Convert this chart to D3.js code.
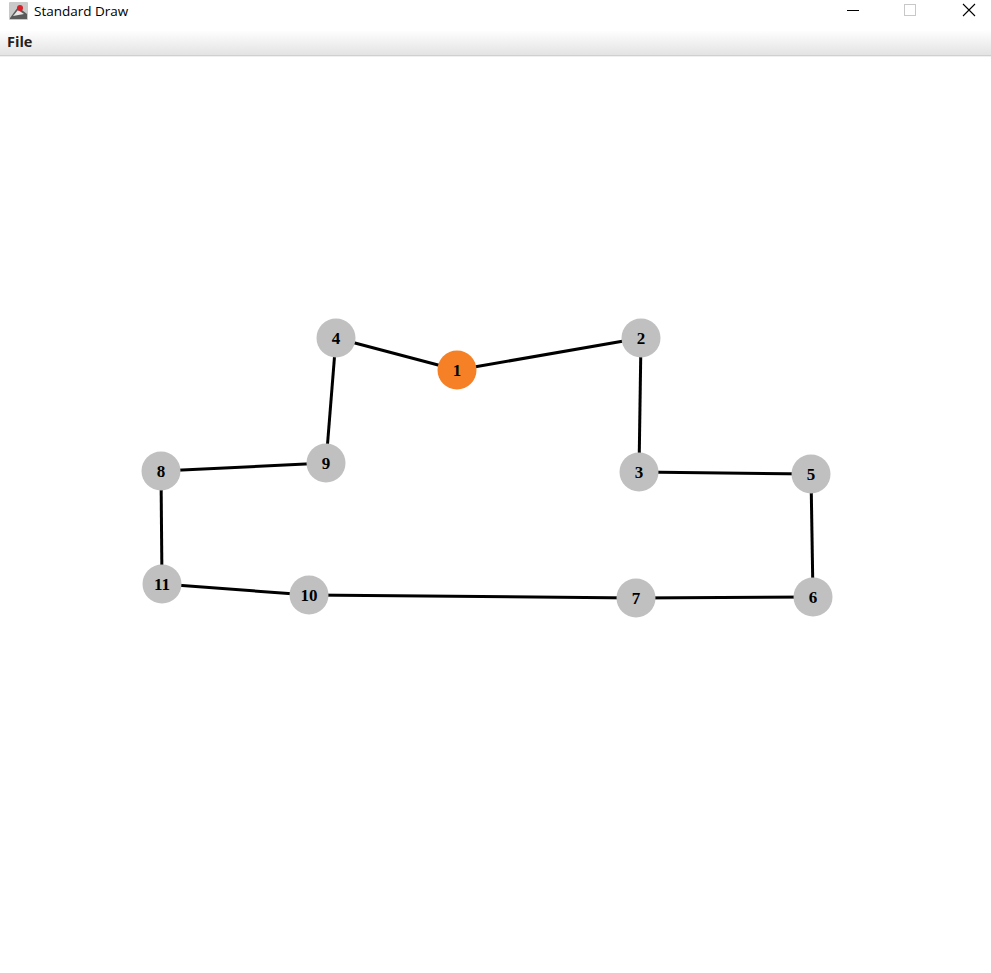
<!DOCTYPE html>
<html>
<head>
<meta charset="utf-8">
<title>Standard Draw</title>
<script src="https://cdn.jsdelivr.net/npm/d3@7"></script>
<style>
  html, body { margin: 0; padding: 0; background: #fff; overflow: hidden; }
  svg { display: block; }
</style>
</head>
<body>
<svg id="win" width="991" height="973"></svg>
<script>
// graph data (canvas pixel coordinates)
const nodeIds = [1, 2, 3, 4, 5, 6, 7, 8, 9, 10, 11]
const nodeX = [457, 641, 639, 336, 811, 813, 636, 161, 326, 309, 162]
const nodeY = [370, 338, 472, 338, 474, 597, 598, 471, 463, 595, 584]
const edgeFrom = [4, 1, 2, 3, 5, 6, 7, 10, 11, 8, 9]
const edgeTo = [1, 2, 3, 5, 6, 7, 10, 11, 8, 9, 4]
const highlighted = [1]

const W = 991, H = 973
const canvasTop = 57

const svg = d3.select('#win')

// --- window chrome ---
const defs = svg.append('defs')
const grad = defs.append('linearGradient').attr('id', 'menuGrad')
  .attr('x1', 0).attr('y1', 0).attr('x2', 0).attr('y2', 1)
grad.append('stop').attr('offset', '0%').attr('stop-color', '#ffffff')
grad.append('stop').attr('offset', '100%').attr('stop-color', '#e3e3e3')

svg.append('rect').attr('x', 0).attr('y', 0).attr('width', W).attr('height', 30).attr('fill', '#fff')
svg.append('rect').attr('x', 0).attr('y', 30).attr('width', W).attr('height', 25).attr('fill', 'url(#menuGrad)')
svg.append('line').attr('x1', 0).attr('x2', W).attr('y1', 55.5).attr('y2', 55.5).attr('stroke', '#d0d0d0')
svg.append('line').attr('x1', 0).attr('x2', W).attr('y1', 56.5).attr('y2', 56.5).attr('stroke', '#f0f0f0')

// app icon
const icon = svg.append('g').attr('transform', 'translate(9,2)')
icon.append('rect').attr('width', 19).attr('height', 18).attr('fill', '#c9c9c9').attr('rx', 1)
icon.append('path').attr('d', 'M1,16 L9,5 L18,12 L18,17 L1,17 Z').attr('fill', '#5a5a5a')
icon.append('path').attr('d', 'M4,14 L9,8 L15,12 Z').attr('fill', '#e8e8e8')
icon.append('circle').attr('cx', 11).attr('cy', 6).attr('r', 3).attr('fill', '#d8202a')

svg.append('text').attr('x', 34).attr('y', 16).text('Standard Draw')
  .attr('font-family', 'Open Sans, Noto Sans, sans-serif').attr('font-size', 13.5).attr('fill', '#000')
svg.append('text').attr('x', 7).attr('y', 47).text('File')
  .attr('font-family', 'Open Sans, Noto Sans, sans-serif').attr('font-weight', 'bold')
  .attr('font-size', 14.5).attr('fill', '#222')

// window buttons
svg.append('line').attr('x1', 847).attr('x2', 859).attr('y1', 10.5).attr('y2', 10.5).attr('stroke', '#000')
svg.append('rect').attr('x', 904.5).attr('y', 4.5).attr('width', 11).attr('height', 11)
  .attr('fill', 'none').attr('stroke', '#c8c8c8')
svg.append('path').attr('d', 'M963,4 L975,16 M975,4 L963,16').attr('stroke', '#000').attr('stroke-width', 1.1)

// --- drawing canvas ---
const x = d3.scaleLinear().domain([0, W]).range([0, W])
const y = d3.scaleLinear().domain([canvasTop, H]).range([canvasTop, H])

const nodes = nodeIds.map((id, i) => ({ id, x: nodeX[i], y: nodeY[i] }))
const byId = new Map(nodes.map(d => [d.id, d]))
const edges = edgeFrom.map((s, i) => ({ source: byId.get(s), target: byId.get(edgeTo[i]) }))

const g = svg.append('g')

g.selectAll('line.edge')
  .data(edges)
  .enter()
  .append('line')
  .attr('class', 'edge')
  .attr('x1', d => x(d.source.x))
  .attr('y1', d => y(d.source.y))
  .attr('x2', d => x(d.target.x))
  .attr('y2', d => y(d.target.y))
  .attr('stroke', '#000')
  .attr('stroke-width', 3)

const node = g.selectAll('g.node')
  .data(nodes)
  .enter()
  .append('g')
  .attr('class', 'node')
  .attr('transform', d => `translate(${x(d.x)},${y(d.y)})`)

node.append('circle')
  .attr('r', 19.5)
  .attr('fill', d => highlighted.includes(d.id) ? '#f58025' : '#c0c0c0')

node.append('text')
  .text(d => d.id)
  .attr('text-anchor', 'middle')
  .attr('dy', '0.34em')
  .attr('font-family', 'Liberation Serif, Times New Roman, serif')
  .attr('font-weight', 'bold')
  .attr('font-size', 17)
  .attr('fill', '#000')
</script>
</body>
</html>
